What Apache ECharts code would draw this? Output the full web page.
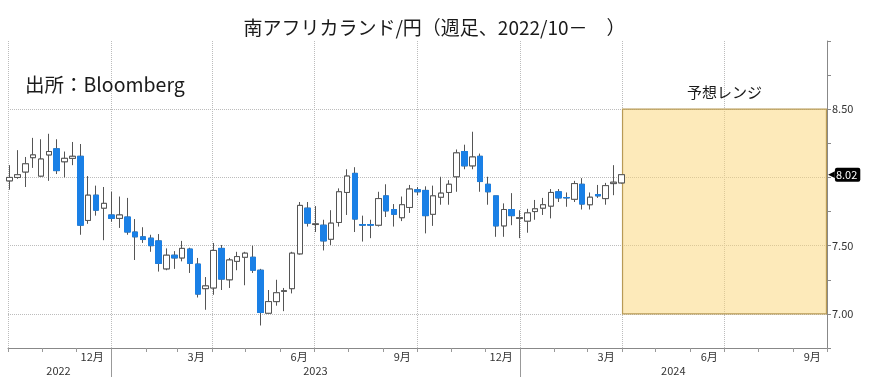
<!DOCTYPE html>
<html><head><meta charset="utf-8">
<script src="https://cdn.jsdelivr.net/npm/echarts@6/dist/echarts.min.js"></script>
<style>html,body{margin:0;padding:0;background:#fff}#c{width:869px;height:387px}</style>
</head><body><div id="c"></div><script>
// ---- data ----
const titleText = '南アフリカランド/円（週足、2022/10－　）';
const sourceText = '出所：Bloomberg';
const axisStart = '2022-10-01';
const axisEnd = '2024-09-30';
const firstWeek = '2022-10-02';
const monthLabels = ['3月', '6月', '9月', '12月'];
const yearLabels = ['2022', '2023', '2024'];
const yTickLabels = ['7.00', '7.50', '8.50'];
const rangeLabel = '予想レンジ';
const rangeLow = 7.00, rangeHigh = 8.50;
const rangeStart = '2024-04-01', rangeEnd = '2024-09-30';

const openV = [7.975,8.00,8.04,8.145,8.01,8.165,8.21,8.115,8.14,8.155,
  7.685,7.87,7.775,7.725,7.70,7.71,7.60,7.565,7.555,7.535,
  7.33,7.43,7.41,7.475,7.365,7.185,7.19,7.48,7.25,7.385,
  7.415,7.415,7.32,7.005,7.09,7.165,7.185,7.44,7.775,7.655,
  7.65,7.547,7.67,7.89,8.03,7.655,7.655,7.65,7.865,7.765,
  7.705,7.78,7.91,7.905,7.73,7.855,7.89,8.005,8.19,8.085,
  8.155,7.95,7.865,7.645,7.765,7.70,7.68,7.75,7.775,7.79,
  7.895,7.853,7.84,7.95,7.80,7.875,7.845,7.955,7.96];
const closeV = [8.00,8.02,8.10,8.165,8.135,8.19,8.05,8.14,8.155,7.65,
  7.87,7.76,7.81,7.70,7.725,7.60,7.565,7.545,7.50,7.37,
  7.43,7.41,7.48,7.37,7.145,7.205,7.465,7.255,7.395,7.42,
  7.445,7.32,7.01,7.09,7.155,7.17,7.445,7.795,7.665,7.66,
  7.535,7.665,7.895,8.01,7.695,7.65,7.65,7.845,7.755,7.73,
  7.80,7.915,7.895,7.72,7.865,7.885,7.95,8.18,8.085,8.15,
  7.97,7.895,7.645,7.765,7.72,7.705,7.74,7.77,7.80,7.89,
  7.85,7.85,7.955,7.805,7.855,7.865,7.94,7.965,8.02];
const lowV = [7.91,7.99,7.93,8.07,8.005,7.975,8.025,8.00,8.09,7.58,
  7.66,7.72,7.54,7.675,7.63,7.58,7.395,7.52,7.455,7.31,
  7.32,7.33,7.385,7.30,7.12,7.03,7.14,7.175,7.19,7.32,
  7.21,7.30,6.915,7.00,7.06,7.02,7.15,7.435,7.64,7.60,
  7.465,7.505,7.64,7.725,7.60,7.53,7.555,7.64,7.71,7.64,
  7.68,7.74,7.87,7.59,7.645,7.80,7.80,7.895,8.06,8.06,
  7.895,7.80,7.565,7.565,7.65,7.555,7.595,7.69,7.725,7.70,
  7.82,7.785,7.82,7.765,7.765,7.85,7.80,7.87,7.955];
const highV = [8.09,8.20,8.15,8.29,8.28,8.32,8.28,8.19,8.26,8.245,
  8.01,7.94,7.93,7.895,7.86,7.85,7.695,7.635,7.58,7.585,
  7.48,7.46,7.535,7.485,7.41,7.27,7.52,7.505,7.41,7.455,
  7.455,7.50,7.33,7.175,7.25,7.19,7.455,7.82,7.82,7.79,
  7.69,7.76,7.92,8.06,8.075,7.72,7.69,7.895,7.95,7.805,
  7.86,7.945,7.93,7.935,7.94,8.005,7.98,8.205,8.24,8.335,
  8.175,8.005,7.865,7.81,7.885,7.76,7.77,7.835,7.85,7.915,
  7.915,7.89,7.975,7.995,7.89,7.945,7.96,8.09,8.025];

// ---- build ----
const DAY = 86400000;
const fmt = t => new Date(t).toISOString().slice(0, 10);
const days = [];
for (let t = Date.parse(axisStart + 'T00:00:00Z'); t <= Date.parse(axisEnd + 'T00:00:00Z'); t += DAY) days.push(fmt(t));
const t0 = Date.parse(firstWeek + 'T00:00:00Z');
const weekIdx = openV.map((_, i) => days.indexOf(fmt(t0 + i * 7 * DAY)));
const wickData = openV.map((o, i) => [weekIdx[i], o, closeV[i], lowV[i], highV[i]]);
const bodyData = openV.map((o, i) => [weekIdx[i], o, closeV[i], Math.min(o, closeV[i]), Math.max(o, closeV[i])]);
const lastClose = closeV[closeV.length - 1];

const mon = s => +s.slice(5, 7), dd = s => +s.slice(8, 10), yr = s => s.slice(0, 4);
const isQuarterStart = (i, s) => i === 0 || (dd(s) === 1 && [1, 4, 7, 10].includes(mon(s)));
const isMonthStart = (i, s) => dd(s) === 1;
const isYearStart = (i, s) => dd(s) === 1 && mon(s) === 1;
const isMonthLabel = (i, s) => dd(s) === 25 && mon(s) % 3 === 0;
const yearMid = {};
yearLabels.forEach(y => {
  const idx = days.map((d, i) => yr(d) === y ? i : -1).filter(i => i >= 0);
  yearMid[Math.floor((idx[0] + idx[idx.length - 1]) / 2)] = y;
});

const font = '"Noto Sans CJK JP", "Noto Sans", sans-serif';
const chart = echarts.init(document.getElementById('c'));
chart.setOption({
  animation: false,
  backgroundColor: '#fff',
  title: [
    { text: titleText, left: 'center', top: 13, textStyle: { fontFamily: font, fontSize: 19, fontWeight: 'normal', color: '#1a1a1a' } },
    { text: sourceText, left: 20, top: 70, textStyle: { fontFamily: font, fontSize: 19.5, fontWeight: 'normal', color: '#1a1a1a' } }
  ],
  grid: [
    { left: 8, right: 42, top: 41, bottom: 39 },
    { left: 8, right: 42, top: 348, height: 29 }
  ],
  xAxis: [
    {
      type: 'category', data: days, boundaryGap: true, position: 'bottom', gridIndex: 0,
      axisLine: { show: true, lineStyle: { color: '#888' } },
      axisTick: { show: true, interval: isMonthStart, length: 4, lineStyle: { color: '#999' } },
      axisLabel: {
        interval: isMonthLabel, margin: 3, align: 'right',
        formatter: s => monthLabels[mon(s) / 3 - 1],
        fontFamily: font, fontSize: 11, color: '#333'
      },
      splitLine: { show: true, interval: isQuarterStart, lineStyle: { color: '#bcbcbc', type: 'dotted' } }
    },
    {
      type: 'category', data: days, boundaryGap: false, position: 'bottom', gridIndex: 1,
      axisLine: { show: false },
      axisTick: { show: false },
      axisLabel: {
        interval: (i) => yearMid[i] !== undefined, margin: -12,
        formatter: s => yr(s), fontFamily: font, fontSize: 11, color: '#333'
      },
      splitLine: { show: true, interval: isYearStart, lineStyle: { color: '#999', type: 'solid', width: 1 } }
    }
  ],
  yAxis: [
    {
      type: 'value', position: 'right', min: 6.75, max: 9.0, interval: 0.25, gridIndex: 0,
      axisLine: { show: true, lineStyle: { color: '#888' } },
      axisTick: { show: true, length: 4, lineStyle: { color: '#888' } },
      axisLabel: {
        margin: 5, fontFamily: font, fontSize: 11, color: '#333',
        formatter: v => yTickLabels.includes(v.toFixed(2)) ? v.toFixed(2) : ''
      },
      splitLine: { show: true, showMaxLine: false, lineStyle: { color: ['rgba(0,0,0,0)', '#bcbcbc'], type: 'dotted' } }
    },
    { type: 'value', gridIndex: 1, min: 0, max: 1, axisLine: { show: false }, axisTick: { show: false }, axisLabel: { show: false }, splitLine: { show: false } }
  ],
  series: [
    {
      type: 'candlestick', name: 'wick', xAxisIndex: 0, yAxisIndex: 0, data: wickData,
      encode: { x: 0, y: [1, 2, 3, 4] }, barWidth: 6,
      itemStyle: { color: '#fff', color0: '#fff', borderColor: '#555', borderColor0: '#555', borderWidth: 1 },
      markArea: {
        silent: true,
        itemStyle: { color: 'rgba(252,214,118,0.5)', borderColor: '#b89a55', borderWidth: 1.2 },
        label: { show: true, position: 'top', distance: 9, fontFamily: font, fontSize: 15, color: '#1a1a1a' },
        data: [[{ name: rangeLabel, xAxis: rangeStart, yAxis: rangeHigh }, { xAxis: rangeEnd, yAxis: rangeLow }]]
      }
    },
    {
      type: 'candlestick', name: 'body', xAxisIndex: 0, yAxisIndex: 0, data: bodyData,
      encode: { x: 0, y: [1, 2, 3, 4] }, barWidth: 6,
      itemStyle: { color: '#fff', color0: '#1a80e6', borderColor: '#555', borderColor0: '#1a80e6', borderWidth: 1 },
      markLine: {
        silent: true, symbol: ['none', 'none'],
        lineStyle: { color: 'rgba(0,0,0,0)', width: 0 },
        label: {
          show: true, position: 'end', distance: 1,
          formatter: () => '{a|◀}{b|' + lastClose.toFixed(2) + '}',
          rich: {
            a: { color: '#000', fontSize: 9, fontFamily: 'DejaVu Sans' },
            b: { backgroundColor: '#000', color: '#fff', fontFamily: font, fontSize: 11, padding: [2, 3, 1, 1], borderRadius: 2 }
          }
        },
        data: [{ yAxis: lastClose }]
      }
    }
  ]
});
</script></body></html>
